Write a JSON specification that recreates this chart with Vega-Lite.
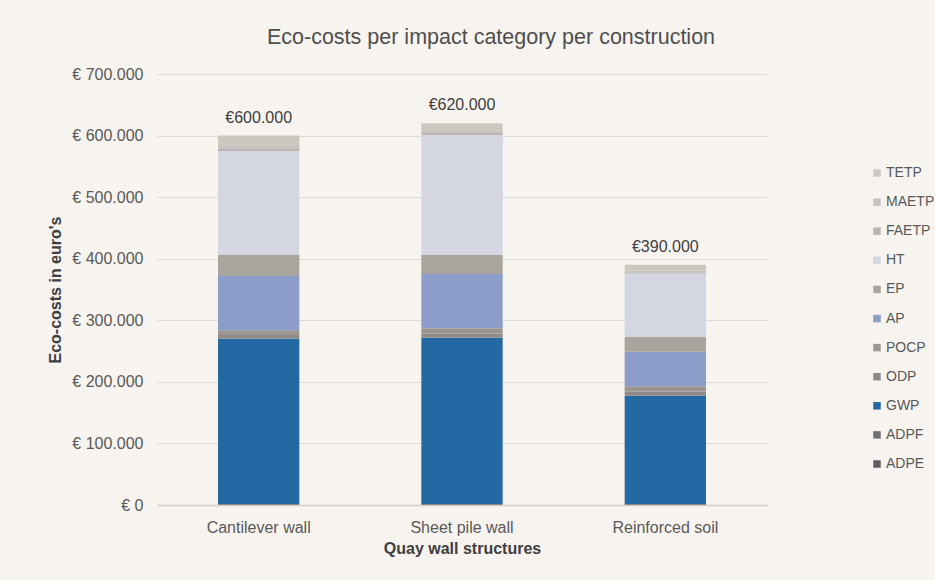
{
  "$schema": "https://vega.github.io/schema/vega-lite/v6.json",
  "width": 610,
  "height": 431,
  "autosize": "none",
  "padding": {"left": 157, "top": 74, "right": 168, "bottom": 75},
  "background": "#f7f3ee",
  "config": {
    "font": "Liberation Sans",
    "view": {"stroke": null},
    "axis": {"labelColor": "#595959", "titleColor": "#404040"},
    "locale": {
      "number": {
        "decimal": ",",
        "thousands": ".",
        "grouping": [3],
        "currency": ["€", ""]
      }
    }
  },
  "title": {
    "text": "Eco-costs per impact category per construction",
    "fontSize": 21.5,
    "fontWeight": "normal",
    "color": "#4f4f4f",
    "anchor": "middle",
    "dx": 29,
    "offset": 18
  },
  "data": {
    "values": [
      {"structure": "Cantilever wall", "category": "ADPE", "k": 1, "value": 500},
      {"structure": "Cantilever wall", "category": "ADPF", "k": 2, "value": 1000},
      {"structure": "Cantilever wall", "category": "GWP", "k": 3, "value": 268500},
      {"structure": "Cantilever wall", "category": "ODP", "k": 4, "value": 6000},
      {"structure": "Cantilever wall", "category": "POCP", "k": 5, "value": 8000},
      {"structure": "Cantilever wall", "category": "AP", "k": 6, "value": 88000},
      {"structure": "Cantilever wall", "category": "EP", "k": 7, "value": 35000},
      {"structure": "Cantilever wall", "category": "HT", "k": 8, "value": 168000},
      {"structure": "Cantilever wall", "category": "FAETP", "k": 9, "value": 3000},
      {"structure": "Cantilever wall", "category": "MAETP", "k": 10, "value": 5000},
      {"structure": "Cantilever wall", "category": "TETP", "k": 11, "value": 17000},
      {"structure": "Sheet pile wall", "category": "ADPE", "k": 1, "value": 500},
      {"structure": "Sheet pile wall", "category": "ADPF", "k": 2, "value": 1000},
      {"structure": "Sheet pile wall", "category": "GWP", "k": 3, "value": 270000},
      {"structure": "Sheet pile wall", "category": "ODP", "k": 4, "value": 7000},
      {"structure": "Sheet pile wall", "category": "POCP", "k": 5, "value": 8500},
      {"structure": "Sheet pile wall", "category": "AP", "k": 6, "value": 88000},
      {"structure": "Sheet pile wall", "category": "EP", "k": 7, "value": 31000},
      {"structure": "Sheet pile wall", "category": "HT", "k": 8, "value": 195000},
      {"structure": "Sheet pile wall", "category": "FAETP", "k": 9, "value": 3000},
      {"structure": "Sheet pile wall", "category": "MAETP", "k": 10, "value": 4000},
      {"structure": "Sheet pile wall", "category": "TETP", "k": 11, "value": 12000},
      {"structure": "Reinforced soil", "category": "ADPE", "k": 1, "value": 500},
      {"structure": "Reinforced soil", "category": "ADPF", "k": 2, "value": 1000},
      {"structure": "Reinforced soil", "category": "GWP", "k": 3, "value": 176000},
      {"structure": "Reinforced soil", "category": "ODP", "k": 4, "value": 7000},
      {"structure": "Reinforced soil", "category": "POCP", "k": 5, "value": 8500},
      {"structure": "Reinforced soil", "category": "AP", "k": 6, "value": 56000},
      {"structure": "Reinforced soil", "category": "EP", "k": 7, "value": 24000},
      {"structure": "Reinforced soil", "category": "HT", "k": 8, "value": 103000},
      {"structure": "Reinforced soil", "category": "FAETP", "k": 9, "value": 2000},
      {"structure": "Reinforced soil", "category": "MAETP", "k": 10, "value": 3000},
      {"structure": "Reinforced soil", "category": "TETP", "k": 11, "value": 9000}
    ]
  },
  "encoding": {
    "x": {
      "field": "structure",
      "type": "nominal",
      "sort": ["Cantilever wall", "Sheet pile wall", "Reinforced soil"],
      "scale": {"paddingInner": 0.6, "paddingOuter": 0.3},
      "axis": {
        "title": "Quay wall structures",
        "titleFontSize": 16,
        "titleFontWeight": "bold",
        "titlePadding": 5,
        "labelAngle": 0,
        "labelFontSize": 16,
        "labelPadding": 14,
        "ticks": false,
        "domainColor": "#d0d0d0",
        "domainWidth": 1.5
      }
    }
  },
  "resolve": {"axis": {"y": "shared"}},
  "layer": [
    {
      "mark": {"type": "bar"},
      "encoding": {
        "y": {
          "field": "value",
          "type": "quantitative",
          "aggregate": "sum",
          "stack": "zero",
          "scale": {"domain": [0, 700000], "nice": false},
          "axis": {
            "title": "Eco-costs in euro's",
            "titleFontSize": 16,
            "titleFontWeight": "bold",
            "titlePadding": 8,
            "values": [0, 100000, 200000, 300000, 400000, 500000, 600000, 700000],
            "labelOverlap": false,
            "labelExpr": "'€ ' + replace(format(datum.value, ',.0f'), /,/g, '.')",
            "labelFontSize": 16,
            "labelPadding": 14,
            "ticks": false,
            "domain": false,
            "gridColor": "#d9d9d9",
            "gridWidth": 1.2
          }
        },
        "color": {
          "field": "category",
          "type": "nominal",
          "scale": {
            "domain": ["TETP", "MAETP", "FAETP", "HT", "EP", "AP", "POCP", "ODP", "GWP", "ADPF", "ADPE"],
            "range": ["#ccc7c1", "#c6c3c0", "#b8b5b2", "#d4d6e2", "#a9a49d", "#8b9dc8", "#9b9691", "#8d8a87", "#2369a4", "#707070", "#5c5c5c"]
          },
          "legend": {
            "title": null,
            "orient": "none",
            "legendX": 713,
            "legendY": 92,
            "symbolType": "square",
            "symbolSize": 56,
            "symbolStrokeWidth": 0,
            "labelFontSize": 14,
            "labelColor": "#595959",
            "labelOffset": 2,
            "rowPadding": 15.1,
            "labelLimit": 200
          }
        },
        "order": {"field": "k", "type": "quantitative", "sort": "ascending"}
      }
    },
    {
      "mark": {"type": "text", "dy": -18, "fontSize": 16, "color": "#404040"},
      "transform": [
        {"aggregate": [{"op": "sum", "field": "value", "as": "total"}], "groupby": ["structure"]}
      ],
      "encoding": {
        "y": {"field": "total", "type": "quantitative"},
        "text": {"field": "total", "type": "quantitative", "format": "$,.0f"}
      }
    }
  ]
}
